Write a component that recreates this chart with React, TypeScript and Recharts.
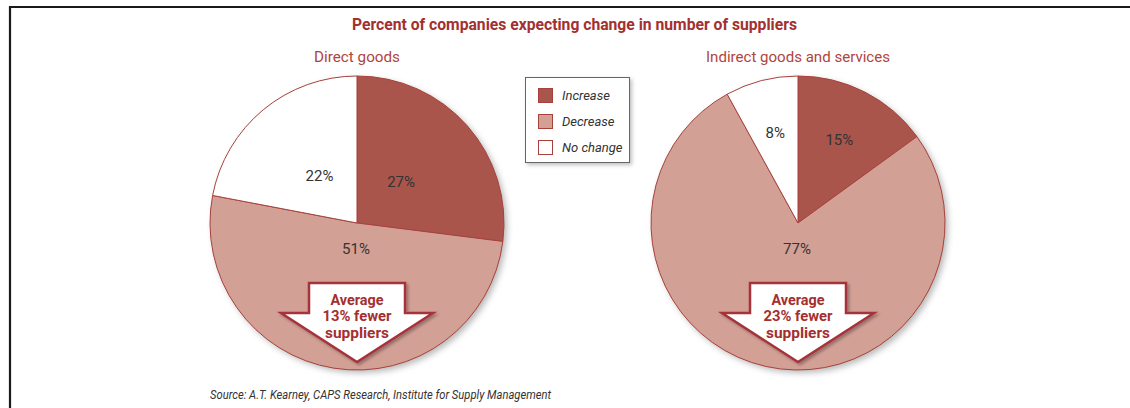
import { PieChart, Pie, Cell, Legend } from "recharts";

const categories = ["Increase", "Decrease", "No change"];
const directValues = [27, 51, 22];
const indirectValues = [15, 77, 8];
const chartTitles = ["Direct goods", "Indirect goods and services"];
const averageFewer = [13, 23];

const W = 1130;
const H = 408;
const R = 147;
const CY = 223;
const CX = [357, 798];

const COLORS = ["#aa554b", "#d3a096", "#ffffff"];
const STROKE = "#a8413c";
const RED_TEXT = "#a3302f";
const FONT = "Roboto, 'Liberation Sans', sans-serif";
const RAD = Math.PI / 180;

const directData = categories.map((name, i) => ({ name, value: directValues[i] }));
const indirectData = categories.map((name, i) => ({ name, value: indirectValues[i] }));

// label: the big "Decrease" slice gets its label just under the centre,
// the others sit along the slice middle at a given radius ratio
function makeLabel(ratio: number) {
  return (props: any) => {
    const { cx, cy, midAngle, outerRadius, value, name } = props;
    let x: number;
    let y: number;
    if (name === "Decrease") {
      x = cx - 1;
      y = cy + 26;
    } else {
      const r = outerRadius * ratio;
      x = cx + r * Math.cos(-midAngle * RAD);
      y = cy + r * Math.sin(-midAngle * RAD) - 2;
    }
    return (
      <text
        x={x}
        y={y}
        textAnchor="middle"
        dominantBaseline="central"
        fill="#333"
        fontSize={15}
        fontFamily={FONT}
      >
        {value}%
      </text>
    );
  };
}

function LegendBox() {
  return (
    <div
      style={{
        width: 105,
        height: 86,
        border: "1px solid #666",
        boxShadow: "2px 2px 4px rgba(0,0,0,0.25)",
        background: "#fff",
        boxSizing: "border-box",
        fontFamily: FONT,
      }}
    >
      {categories.map((c, i) => (
        <div
          key={c}
          style={{
            display: "flex",
            alignItems: "center",
            height: 16,
            marginTop: i === 0 ? 9 : 10,
            marginLeft: 12,
          }}
        >
          <span
            style={{
              width: 15,
              height: 15,
              background: COLORS[i],
              border: `1px solid ${STROKE}`,
              boxSizing: "border-box",
              display: "inline-block",
            }}
          />
          <span style={{ marginLeft: 9, fontSize: 13, fontStyle: "italic", color: "#333" }}>{c}</span>
        </div>
      ))}
    </div>
  );
}

// condensed look: squeeze text to the width it has in the original
function Narrow({ x, y, w, children, anchor = "middle", ...rest }: any) {
  return (
    <text
      x={x}
      y={y}
      textAnchor={anchor}
      dominantBaseline="central"
      textLength={w}
      lengthAdjust="spacingAndGlyphs"
      fontFamily={FONT}
      {...rest}
    >
      {children}
    </text>
  );
}

function Arrow({ cx, pct }: { cx: number; pct: number }) {
  const top = CY + 60;
  const wing = CY + 90;
  const tip = CY + 139;
  const d = `M${cx - 48},${top} H${cx + 48} V${wing} H${cx + 76} L${cx},${tip} L${cx - 76},${wing} H${cx - 48} Z`;
  const lines = ["Average", `${pct}% fewer`, "suppliers"];
  const widths = [53, 69, 64];
  return (
    <g>
      <path d={d} fill="#fff" stroke="#a6333a" strokeWidth={2.5} strokeLinejoin="miter" filter="url(#arrowShadow)" />
      {lines.map((t, i) => (
        <Narrow
          key={i}
          x={cx}
          y={CY + 77 + i * 16.5}
          w={widths[i]}
          fill={RED_TEXT}
          fontSize={14.5}
          fontWeight="bold"
        >
          {t}
        </Narrow>
      ))}
    </g>
  );
}

export default function App() {
  return (
    <div style={{ position: "absolute", left: 0, top: 0, width: W, height: H, background: "#fff" }}>
      {/* soft shadows behind the pies */}
      <svg width={W} height={H} style={{ position: "absolute", left: 0, top: 0 }}>
        <defs>
          <filter id="pieShadow" x="-20%" y="-20%" width="140%" height="140%">
            <feGaussianBlur stdDeviation="3" />
          </filter>
        </defs>
        {CX.map((cx) => (
          <circle key={cx} cx={cx + 3} cy={CY + 3} r={R} fill="rgba(0,0,0,0.28)" filter="url(#pieShadow)" />
        ))}
      </svg>

      <div style={{ position: "absolute", left: 0, top: 0 }}>
        <PieChart width={W} height={H} margin={{ top: 0, right: 0, bottom: 0, left: 0 }}>
          <Pie
            data={directData}
            dataKey="value"
            nameKey="name"
            cx={CX[0]}
            cy={CY}
            outerRadius={R}
            startAngle={90}
            endAngle={-270}
            stroke={STROKE}
            strokeWidth={1}
            label={makeLabel(0.4)}
            labelLine={false}
            isAnimationActive={false}
          >
            {directData.map((d, i) => (
              <Cell key={d.name} fill={COLORS[i]} />
            ))}
          </Pie>
          <Pie
            data={indirectData}
            dataKey="value"
            nameKey="name"
            cx={CX[1]}
            cy={CY}
            outerRadius={R}
            startAngle={90}
            endAngle={-270}
            stroke={STROKE}
            strokeWidth={1}
            label={makeLabel(0.62)}
            labelLine={false}
            isAnimationActive={false}
          >
            {indirectData.map((d, i) => (
              <Cell key={d.name} fill={COLORS[i]} />
            ))}
          </Pie>
          <Legend
            content={() => <LegendBox />}
            wrapperStyle={{ position: "absolute", left: 525, top: 77, width: 105, height: 86 }}
          />
        </PieChart>
      </div>

      <svg width={W} height={H} style={{ position: "absolute", left: 0, top: 0, pointerEvents: "none" }}>
        <defs>
          <filter id="arrowShadow" x="-20%" y="-20%" width="150%" height="150%">
            <feDropShadow dx="2" dy="2" stdDeviation="1.5" floodColor="#000" floodOpacity="0.3" />
          </filter>
        </defs>
        <path d={`M10,${H} V7 H${W}`} fill="none" stroke="#1a1a1a" strokeWidth={2.2} />
        <Narrow x={574.5} y={24} w={445} fill={RED_TEXT} fontSize={17} fontWeight="bold">
          Percent of companies expecting change in number of suppliers
        </Narrow>
        {chartTitles.map((t, i) => (
          <Narrow key={t} x={CX[i]} y={57} w={i === 0 ? 86 : 184} fill="#b0443e" fontSize={15}>
            {t}
          </Narrow>
        ))}
        {CX.map((cx, i) => (
          <Arrow key={cx} cx={cx} pct={averageFewer[i]} />
        ))}
        <Narrow x={210} y={395} w={341} anchor="start" fill="#333" fontSize={12} fontStyle="italic">
          Source: A.T. Kearney, CAPS Research, Institute for Supply Management
        </Narrow>
      </svg>
    </div>
  );
}
